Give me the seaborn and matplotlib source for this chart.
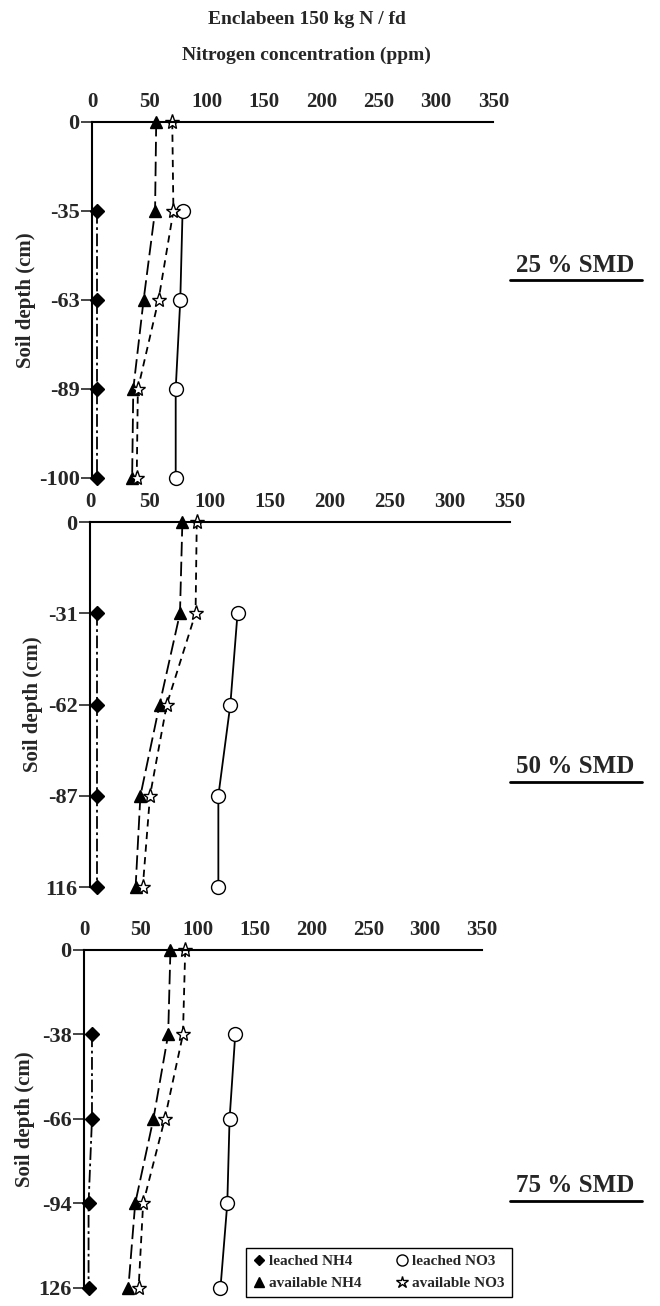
import numpy as np
import pandas as pd
import matplotlib.pyplot as plt
from matplotlib.lines import Line2D
import seaborn as sns

# -------------------- Style Settings --------------------
sns.set_theme(style="white")
plt.rcParams["font.family"] = ["Liberation Serif", "DejaVu Serif"]
plt.rcParams["font.weight"] = "bold"

# -------------------- Data --------------------
title_1 = "Enclabeen 150 kg N / fd"
title_2 = "Nitrogen concentration (ppm)"
x_ticks = [0, 50, 100, 150, 200, 250, 300, 350]

# 25 % SMD
depth_25 = ["0", "-35", "-63", "-89", "-100"]
avail_nh4_25 = [56, 55, 45, 36, 35]
avail_no3_25 = [70, 71, 58, 40, 39]
leached_nh4_25 = [np.nan, 4, 4, 4, 4]
leached_no3_25 = [np.nan, 79, 77, 73, 73]

# 50 % SMD
depth_50 = ["0", "-31", "-62", "-87", "116"]
avail_nh4_50 = [77, 75, 58, 42, 38]
avail_no3_50 = [89, 88, 64, 50, 44]
leached_nh4_50 = [np.nan, 6, 6, 6, 6]
leached_no3_50 = [np.nan, 123, 117, 107, 107]

# 75 % SMD
depth_75 = ["0", "-38", "-66", "-94", "126"]
avail_nh4_75 = [76, 74, 61, 45, 39]
avail_no3_75 = [89, 87, 71, 52, 48]
leached_nh4_75 = [np.nan, 7, 7, 4, 4]
leached_no3_75 = [np.nan, 133, 128, 126, 120]

panel_names = ["25 % SMD", "50 % SMD", "75 % SMD"]
series_names = ["leached NH4", "available NH4", "leached NO3", "available NO3"]

# -------------------- Series styles --------------------
styles = {
    "leached NH4": dict(marker="D", markersize=7, markerfacecolor="black",
                        dashes=(7, 2, 1.5, 2)),
    "available NH4": dict(marker="^", markersize=9, markerfacecolor="black",
                          dashes=(8, 3)),
    "leached NO3": dict(marker="o", markersize=10, markerfacecolor="white",
                        dashes=(1, 0)),
    "available NO3": dict(marker="*", markersize=11, markerfacecolor="white",
                          dashes=(4, 3)),
}

# -------------------- Layout --------------------
fig = plt.figure(figsize=(6.6, 13.06), dpi=100)
axes_pos = [
    [0.1394, 0.634, 0.608, 0.2726],
    [0.1364, 0.3208, 0.636, 0.2795],
    [0.1273, 0.0138, 0.603, 0.2588],
]
label_y = [0.797, 0.413, 0.092]

panels = [
    (depth_25, leached_nh4_25, avail_nh4_25, leached_no3_25, avail_no3_25),
    (depth_50, leached_nh4_50, avail_nh4_50, leached_no3_50, avail_no3_50),
    (depth_75, leached_nh4_75, avail_nh4_75, leached_no3_75, avail_no3_75),
]

for i, (depths, l_nh4, a_nh4, l_no3, a_no3) in enumerate(panels):
    ax = fig.add_axes(axes_pos[i])
    pos = -np.arange(len(depths))
    df = pd.DataFrame({
        "pos": np.tile(pos, 4),
        "conc": l_nh4 + a_nh4 + l_no3 + a_no3,
        "series": np.repeat(series_names, len(depths)),
    }).dropna()

    for name in series_names:
        sub = df[df["series"] == name]
        st = styles[name]
        sns.lineplot(data=sub, x="conc", y="pos", sort=False, estimator=None,
                     color="black", linewidth=1.3, marker=st["marker"],
                     markersize=st["markersize"], markerfacecolor=st["markerfacecolor"],
                     markeredgecolor="black", markeredgewidth=1.0,
                     dashes=st["dashes"], clip_on=False, ax=ax)

    ax.set_xlim(0, 350)
    ax.set_ylim(pos[-1], 0)
    ax.xaxis.tick_top()
    ax.set_xticks(x_ticks)
    ax.set_yticks(pos)
    ax.set_yticklabels(depths)
    ax.tick_params(axis="x", length=0, pad=7, labelsize=15)
    ax.tick_params(axis="y", length=8, width=1.2, direction="out",
                   left=True, pad=1, labelsize=16)
    ax.set_xlabel("")
    ax.set_ylabel("Soil depth (cm)", fontsize=15, fontweight="bold", labelpad=2)
    for side in ["right", "bottom"]:
        ax.spines[side].set_visible(False)
    for side in ["top", "left"]:
        ax.spines[side].set_color("black")
        ax.spines[side].set_linewidth(1.5)
    ax.set_facecolor("white")

    # Panel label on the right, underlined
    fig.text(0.872, label_y[i], panel_names[i], ha="center", va="center",
             fontsize=18, fontweight="bold")
    fig.add_artist(Line2D([0.772, 0.972], [label_y[i] - 0.0115, label_y[i] - 0.0115],
                          color="black", linewidth=2))

# -------------------- Titles --------------------
fig.text(0.465, 0.985, title_1, ha="center", va="center", fontsize=14, fontweight="bold")
fig.text(0.465, 0.958, title_2, ha="center", va="center", fontsize=14, fontweight="bold")

# -------------------- Legend --------------------
handles = []
for name in series_names:
    st = styles[name]
    handles.append(Line2D([], [], color="black", linestyle="none", marker=st["marker"],
                          markersize=st["markersize"] - 2,
                          markerfacecolor=st["markerfacecolor"], markeredgecolor="black"))
fig.legend(handles, series_names, ncol=2, loc="lower left",
           bbox_to_anchor=(238 / 660, 1 / 1306), frameon=True, fancybox=False,
           edgecolor="black", framealpha=1, fontsize=11, handlelength=0.8,
           handletextpad=0.3, columnspacing=2.2, borderpad=0.45, labelspacing=0.55)

plt.savefig("out.png", dpi=100, facecolor="white")
plt.close()
